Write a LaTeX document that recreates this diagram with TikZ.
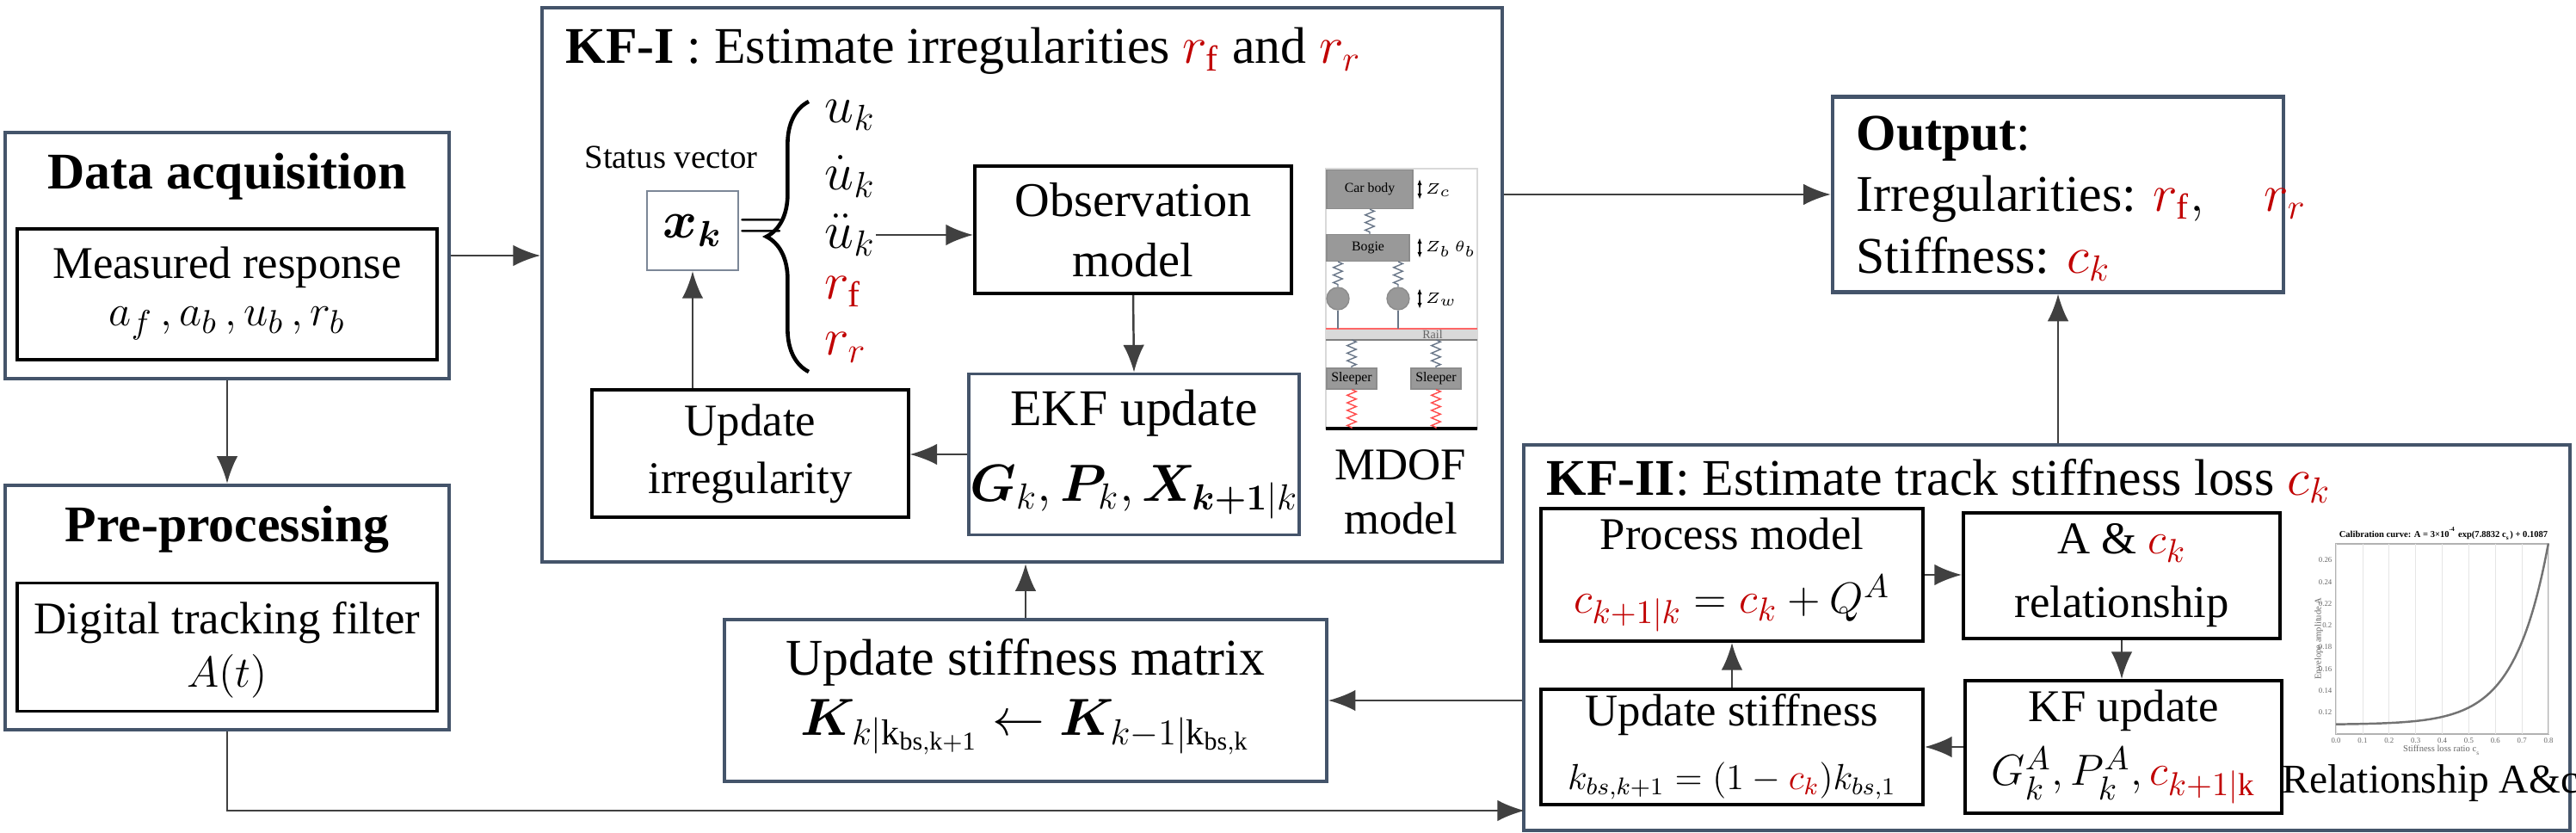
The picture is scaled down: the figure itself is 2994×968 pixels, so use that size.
\documentclass[tikz,border=0pt]{standalone}
\usepackage{fontspec}
\setmainfont{Liberation Serif}
\usepackage{amsmath,bm}
\usetikzlibrary{arrows.meta,decorations.pathreplacing,decorations.pathmorphing}
\definecolor{kfred}{HTML}{C00000}
\definecolor{frameblue}{HTML}{44546A}
\newcommand{\rd}[1]{\textcolor{kfred}{#1}}
\tikzset{
  outer/.style={draw=frameblue, line width=1.2pt, inner sep=0pt},
  inner/.style={draw=black, line width=1.1pt, align=center, inner sep=0pt},
  lbl/.style={inner sep=0pt, font=\fontsize{15}{17}\selectfont},
  flow/.style={draw=black!75, line width=0.7pt, -{Latex[length=9pt,width=7pt]}},
  spring/.style={draw=frameblue!80, line width=0.4pt, decorate, decoration={zigzag, amplitude=1.5pt, segment length=2.5pt}},
  mass/.style={fill=black!40, draw=black!45, inner sep=0pt, font=\fontsize{4.5}{5}\selectfont}
}
\begin{document}
\begin{tikzpicture}[x=0.01cm, y=-0.01cm]
		\useasboundingbox (0,0) rectangle (2994,968);
		% Frames:
		\node[outer, minimum width=5.16cm, minimum height=2.86cm] (da) at (264, 297) {};
		\node[outer, minimum width=5.16cm, minimum height=2.84cm] (pp) at (264, 706) {};
		\node[outer, minimum width=11.15cm, minimum height=6.44cm] (kfi) at (1188, 331) {};
		\node[outer, minimum width=5.24cm, minimum height=2.27cm] (out) at (2392, 226) {};
		\node[outer, minimum width=12.15cm, minimum height=4.48cm] (kfii) at (2379, 741) {};
		\node[outer, minimum width=6.99cm, minimum height=1.88cm] (usm) at (1192, 814) {};
		% Data acquisition and pre-processing:
		\node[lbl, font=\fontsize{17}{19}\selectfont\bfseries] (datitle) at (264, 205) {Data acquisition};
		\node[inner, minimum width=4.87cm, minimum height=1.52cm] (meas) at (264, 342) {};
		\node[lbl] at (264, 311) {Measured response};
		\node[lbl] at (264, 376) {$a_f\,,a_b\,,u_b\,,r_b$};
		\node[lbl, font=\fontsize{17}{19}\selectfont\bfseries] (pptitle) at (264, 615) {Pre-processing};
		\node[inner, minimum width=4.87cm, minimum height=1.49cm] (dtf) at (264, 752) {};
		\node[lbl] at (264, 724) {Digital tracking filter};
		\node[lbl] at (264, 786) {$A(t)$};
		% KF-I:
		\node[lbl, anchor=west, font=\fontsize{17}{19}\selectfont] (kfititle) at (657, 59) {\textbf{KF-I} : Estimate irregularities $\rd{r_{\mathrm{f}}}$ and $\rd{r_r}$};
		\node[lbl, font=\fontsize{11}{13}\selectfont] (sv) at (780, 183) {Status vector};
		\node[draw=frameblue!70, line width=0.6pt, minimum width=1.06cm, minimum height=0.92cm, lbl, font=\fontsize{18}{20}\selectfont] (xk) at (805, 268) {$\bm{x_k}$};
		\node[lbl, font=\fontsize{22}{24}\selectfont] (eq) at (885, 268) {$=$};
		\draw[line width=1.3pt, decorate, decoration={brace, amplitude=14pt}] (940, 432) -- (940, 118);
		\node[lbl, anchor=west, font=\fontsize{17}{19}\selectfont] (u1) at (958, 134) {$u_k$};
		\node[lbl, anchor=west, font=\fontsize{17}{19}\selectfont] (u2) at (958, 205) {$\dot u_k$};
		\node[lbl, anchor=west, font=\fontsize{17}{19}\selectfont] (u3) at (958, 273) {$\ddot u_k$};
		\node[lbl, anchor=west, font=\fontsize{17}{19}\selectfont] (u4) at (958, 339) {$\rd{r_{\mathrm{f}}}$};
		\node[lbl, anchor=west, font=\fontsize{17}{19}\selectfont] (u5) at (958, 404) {$\rd{r_r}$};
		\node[inner, minimum width=3.68cm, minimum height=1.48cm, font=\fontsize{16}{20}\selectfont] (obs) at (1317, 267) {Observation\\model};
		\node[inner, draw=frameblue, minimum width=3.83cm, minimum height=1.87cm, font=\fontsize{17}{23}\selectfont] (ekf) at (1318, 528) {EKF update\\[2pt]$\bm{G}_k,\bm{P}_k,\bm{X}_{\bm{k+1}|k}$};
		\node[inner, minimum width=3.67cm, minimum height=1.48cm, font=\fontsize{15}{19}\selectfont] (upd) at (872, 527) {Update\\irregularity};
		\node[lbl, font=\fontsize{15}{18}\selectfont, align=center] (mdof) at (1628, 572) {MDOF\\model};
		% MDOF model sketch:
		\draw[black!15, line width=0.5pt] (1541, 196) rectangle (1717, 498);
		\node[mass, minimum width=1.00cm, minimum height=0.45cm] (car) at (1592, 220) {Car body};
		\node[mass, minimum width=0.96cm, minimum height=0.31cm] (bogie) at (1590, 288) {Bogie};
		\node[mass, circle, minimum size=0.26cm] (w1) at (1555, 347) {};
		\node[mass, circle, minimum size=0.26cm] (w2) at (1625, 347) {};
		\fill[black!15] (1541, 383) rectangle (1717, 395);
		\draw[red!60, line width=0.4pt] (1541, 382) -- (1717, 382);
		\draw[black!50, line width=0.5pt] (1541, 395) -- (1717, 395);
		\node[font=\fontsize{4}{5}\selectfont, text=black!60, inner sep=0pt] (rail) at (1665, 389) {Rail};
		\node[mass, minimum width=0.58cm, minimum height=0.24cm] (s1) at (1571, 440) {Sleeper};
		\node[mass, minimum width=0.58cm, minimum height=0.24cm] (s2) at (1669, 440) {Sleeper};
		\draw[black, line width=1pt] (1541, 498) -- (1717, 498);
		\draw[spring] (car.south) -- (car.south |- bogie.north);
		\draw[spring] (w1.north |- bogie.south) -- (w1.north);
		\draw[spring] (w2.north |- bogie.south) -- (w2.north);
		\draw[spring] (s1.north |- 0,395) -- (s1.north);
		\draw[spring] (s2.north |- 0,395) -- (s2.north);
		\draw[spring, draw=red!70] (s1.south) -- (s1.south |- 0,498);
		\draw[spring, draw=red!70] (s2.south) -- (s2.south |- 0,498);
		\draw[frameblue!80, line width=0.4pt] (w1.south) -- (1555, 382) (w2.south) -- (1625, 382);
		\draw[line width=0.4pt, {Latex[length=2pt]}-{Latex[length=2pt]}] (1650, 208) -- (1650, 232);
		\draw[line width=0.4pt, {Latex[length=2pt]}-{Latex[length=2pt]}] (1650, 276) -- (1650, 300);
		\draw[line width=0.4pt, {Latex[length=2pt]}-{Latex[length=2pt]}] (1650, 335) -- (1650, 359);
		\node[font=\fontsize{5}{6}\selectfont, anchor=west, inner sep=0pt] (zc) at (1656, 221) {$Z_c$};
		\node[font=\fontsize{5}{6}\selectfont, anchor=west, inner sep=0pt] (zb) at (1656, 289) {$Z_b\,\theta_b$};
		\node[font=\fontsize{5}{6}\selectfont, anchor=west, inner sep=0pt] (zw) at (1656, 348) {$Z_w$};
		% Output:
		\node[lbl, anchor=west, font=\fontsize{17}{19}\selectfont] (outtitle) at (2157, 161) {\textbf{Output}:};
		\node[lbl, anchor=west, font=\fontsize{17}{19}\selectfont] (outirr) at (2157, 231) {Irregularities: $\rd{r_{\mathrm{f}}},\quad \rd{r_r}$};
		\node[lbl, anchor=west, font=\fontsize{17}{19}\selectfont] (outstf) at (2157, 301) {Stiffness: $\rd{c_k}$};
		% Update stiffness matrix:
		\node[lbl, font=\fontsize{17}{19}\selectfont] at (1192, 770) {Update stiffness matrix};
		\node[lbl, font=\fontsize{17}{19}\selectfont] at (1192, 845) {$\bm{K}_{k|\mathrm{k_{bs,k+1}}}\leftarrow\bm{K}_{k-1|\mathrm{k_{bs,k}}}$};
		% KF-II:
		\node[lbl, anchor=west, font=\fontsize{17}{19}\selectfont] (kfiititle) at (1797, 559) {\textbf{KF-II}: Estimate track stiffness loss $\rd{c_k}$};
		\node[inner, minimum width=4.44cm, minimum height=1.54cm, font=\fontsize{15}{21}\selectfont] (pm) at (2013, 668) {Process model\\$\rd{c_{k+1|k}}=\rd{c_k}+Q^A$};
		\node[inner, minimum width=3.68cm, minimum height=1.46cm, font=\fontsize{15}{21}\selectfont] (ac) at (2466, 669) {A \& $\rd{c_k}$\\relationship};
		\node[inner, minimum width=3.67cm, minimum height=1.54cm, font=\fontsize{15}{21}\selectfont] (kfu) at (2468, 868) {KF update\\$G_k^A,P_k^A,\rd{c_{k+1|\mathrm{k}}}$};
		\node[inner, minimum width=4.44cm, minimum height=1.34cm, font=\fontsize{15}{21}\selectfont] (us) at (2013, 868) {Update stiffness\\{\fontsize{12}{14}\selectfont$k_{bs,k+1}=(1-\rd{c_k})k_{bs,1}$}};
		\node[lbl, font=\fontsize{13.5}{16}\selectfont] (relac) at (2825, 910) {Relationship A\&c};
		% Calibration chart:
		\draw[black!30, line width=0.4pt] (2715, 632) rectangle (2962, 853);
		\foreach \i in {0,...,8} {
			\draw[black!10, line width=0.2pt] ({2715+\i*30.875}, 632) -- ({2715+\i*30.875}, 853);
			\node[font=\fontsize{2.5}{3}\selectfont, inner sep=0pt, text=black!60] at ({2715+\i*30.875}, 861) {0.\i};
		}
		\foreach \v/\t in {0.12/0.12, 0.14/0.14, 0.16/0.16, 0.18/0.18, 0.2/0.2, 0.22/0.22, 0.24/0.24, 0.26/0.26}
			\node[font=\fontsize{2.5}{3}\selectfont, inner sep=0pt, text=black!60, anchor=east] at (2711, {853-(\v-0.10)*1262.9}) {\t};
		\draw[black!55, line width=0.7pt, domain=0:0.8, samples=60, smooth] plot ({2715+\x*308.75}, {853-(0.0003*exp(7.8832*\x)+0.0087)*1262.9});
		\node[font=\fontsize{3}{3.5}\selectfont\bfseries, inner sep=0pt] (charttitle) at (2840, 620) {Calibration curve: A = 3×10\textsuperscript{-4} exp(7.8832 c\textsubscript{s}) + 0.1087};
		\node[font=\fontsize{3}{3.5}\selectfont, inner sep=0pt, text=black!60] (xlab) at (2838, 872) {Stiffness loss ratio c\textsubscript{s}};
		\node[font=\fontsize{3}{3.5}\selectfont, inner sep=0pt, text=black!60, rotate=90] (ylab) at (2695, 742) {Envelope amplitude A};
		% Connectors:
		\coordinate (kfiiin) at (1772, 942);
		\draw[flow] (da.east) -- (kfi.west |- da.east);
		\draw[flow] (da.south) -- (pp.north);
		\draw[flow] (pp.south) |- (kfiiin);
		\draw[flow] (kfi.east |- out.west) -- (out.west);
		\draw[flow] (kfii.north -| out.south) -- (out.south);
		\draw[flow] (usm.north) -- (usm.north |- kfi.south);
		\draw[flow] (kfii.west |- usm.east) -- (usm.east);
		\draw[flow] (u3.east) -- (obs.west |- u3.east);
		\draw[flow] (obs.south) -- (ekf.north);
		\draw[flow] (ekf.west) -- (ekf.west -| upd.east);
		\draw[flow] (xk.south |- upd.north) -- (xk.south);
		\draw[flow] (pm.east) -- (pm.east -| ac.west);
		\draw[flow] (ac.south) -- (ac.south |- kfu.north);
		\draw[flow] (kfu.west) -- (kfu.west -| us.east);
		\draw[flow] (us.north) -- (pm.south);
\end{tikzpicture}
\end{document}
